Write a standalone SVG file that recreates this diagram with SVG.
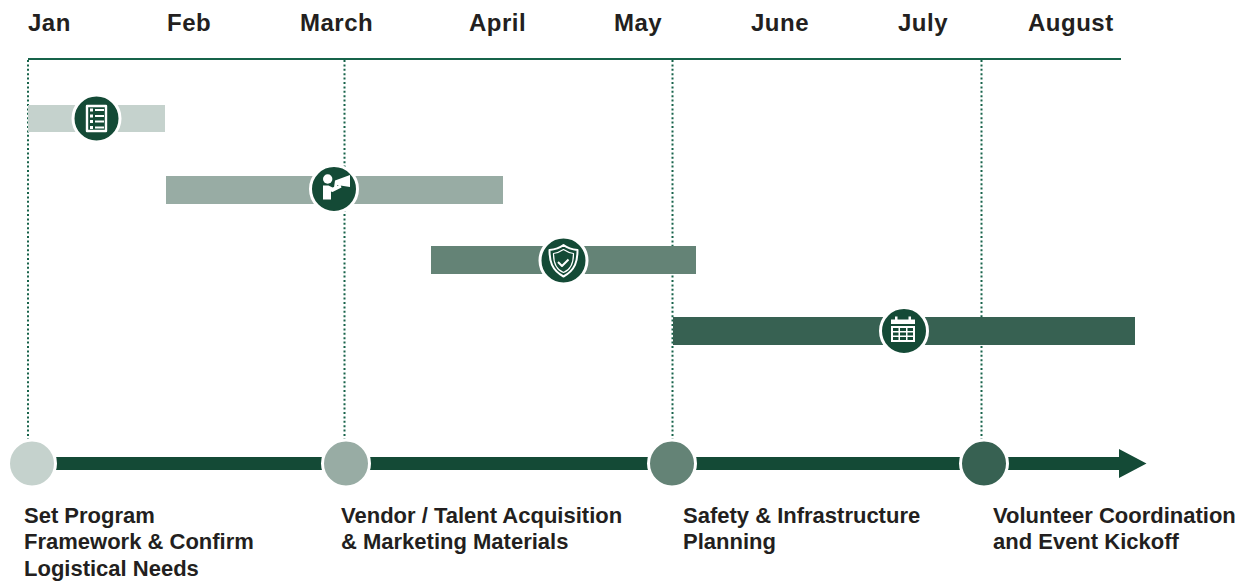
<svg xmlns="http://www.w3.org/2000/svg" width="1247" height="582" viewBox="0 0 1247 582">
<style>
text{font-family:"Liberation Sans",Arial,sans-serif;font-weight:700;fill:#231f20}
.m{font-size:24px;letter-spacing:.5px}
.l{font-size:22px}
.d{stroke:#17634a;stroke-width:2;stroke-dasharray:2 2.4;fill:none}
.ic{fill:#144a36;stroke:#fff;stroke-width:3}
.g{fill:none;stroke:#fff;stroke-linejoin:round}
.w{fill:#fff}
.ms{stroke:#fff;stroke-width:3}
</style>
<rect width="1247" height="582" fill="#fff"/>
<g id="months">
<text class="m" x="28" y="31">Jan</text>
<text class="m" x="167" y="31">Feb</text>
<text class="m" x="300" y="31">March</text>
<text class="m" x="469" y="31">April</text>
<text class="m" x="614" y="31">May</text>
<text class="m" x="751" y="31">June</text>
<text class="m" x="898" y="31">July</text>
<text class="m" x="1028" y="31">August</text>
</g>
<g id="connectors">
<line x1="28" y1="59" x2="1121" y2="59" stroke="#17634a" stroke-width="2"/>
<line class="d" x1="28" y1="60" x2="28" y2="440"/>
<line class="d" x1="344.500" y1="60" x2="344.500" y2="440"/>
<line class="d" x1="672.500" y1="60" x2="672.500" y2="440"/>
<line class="d" x1="981.500" y1="60" x2="981.500" y2="440"/>
<path d="M32 457H1119V449L1146.500 463.500L1119 478V470H32Z" fill="#144a36"/>
</g>
<g id="bar-1"><rect x="28" y="105" width="137" height="27" fill="#c5d2cd"/></g>
<g id="bar-2"><rect x="166" y="176" width="337" height="28" fill="#98aca4"/></g>
<g id="bar-3"><rect x="431" y="246" width="265" height="28" fill="#648376"/></g>
<g id="bar-4"><rect x="673" y="317" width="462" height="28" fill="#376152"/></g>
<g id="icon-list">
<circle class="ic" cx="96.500" cy="118.500" r="23.500"/>
<rect class="g" x="87" y="106" width="19" height="25" stroke-width="2.400"/>
<path class="w" d="M90 107.500h3v3h-3zM90 113.500h3v3h-3zM90 119h3v3h-3zM90 125h3v3h-3zM95 108h9v2h-9zM95 114h9v2h-9zM95 119.500h9v2h-9zM95 125.500h9v2h-9z" transform="translate(0 1)"/>
</g>
<g id="icon-megaphone">
<circle class="ic" cx="334" cy="189" r="23.500"/>
<circle class="w" cx="327.700" cy="179" r="4.700"/>
<path class="w" d="M323 185.500h5.500l4 2 8-3 1 3-9 4.500-1.500-.5v8h-8z"/>
<path class="w" d="M335 180.500l15-5.500v12l-13-2v2.500h-3z"/>
</g>
<g id="icon-shield">
<circle class="ic" cx="563.500" cy="260.500" r="23.500"/>
<path class="g" stroke-width="2" d="M563.500 245c4 3 9 4.500 14 5c0 11-2 20-14 26.500c-12-6.500-14-15.500-14-26.500c5-.5 10-2 14-5z"/>
<path class="g" stroke-width="1.200" d="M563.500 249.500c3 2 6.500 3.500 10 4c0 9-2 16-10 19c-8-3-10-10-10-19c3.500-.5 7-2 10-4z"/>
<path class="g" stroke-width="2" d="M558 262l4 4 6.500-6.500"/>
</g>
<g id="icon-calendar">
<circle class="ic" cx="904" cy="331" r="23.500"/>
<path class="w" d="M891 319.500h24v4.500h-24z"/>
<rect class="w" x="895" y="316.500" width="2.500" height="6"/>
<rect class="w" x="908.500" y="316.500" width="2.500" height="6"/>
<path class="w" fill-rule="evenodd" d="M891 326h24v16h-24zM893 328v3h5.500v-3zM900 328v3h6v-3zM907.500 328v3h5.500v-3zM893 332.500v3h5.500v-3zM900 332.500v3h6v-3zM907.500 332.500v3h5.500v-3zM893 337v3h5.500v-3zM900 337v3h6v-3zM907.500 337v3h5.500v-3z"/>
</g>
<g id="milestone-1">
<circle class="ms" cx="32" cy="463.500" r="23.500" fill="#c5d2cd"/>
<text class="l" x="24" y="523">Set Program</text>
<text class="l" x="24" y="549">Framework &amp; Confirm</text>
<text class="l" x="24" y="576">Logistical Needs</text>
</g>
<g id="milestone-2">
<circle class="ms" cx="346" cy="463.500" r="23.500" fill="#98aca4"/>
<text class="l" x="341" y="523">Vendor / Talent Acquisition</text>
<text class="l" x="341" y="549">&amp; Marketing Materials</text>
</g>
<g id="milestone-3">
<circle class="ms" cx="672" cy="463.500" r="23.500" fill="#648376"/>
<text class="l" x="683" y="523">Safety &amp; Infrastructure</text>
<text class="l" x="683" y="549">Planning</text>
</g>
<g id="milestone-4">
<circle class="ms" cx="984" cy="463.500" r="23.500" fill="#376152"/>
<text class="l" x="993" y="523">Volunteer Coordination</text>
<text class="l" x="993" y="549">and Event Kickoff</text>
</g>
</svg>
